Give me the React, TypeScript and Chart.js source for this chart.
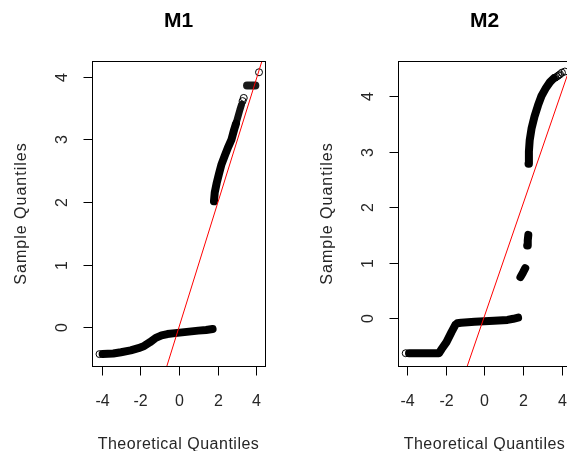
import React, { useEffect, useRef } from 'react';
import { Chart, registerables } from 'chart.js';

Chart.register(...registerables);

// ---- axis ticks ----
const xTickValues = [-4, -2, 0, 2, 4];
const yTickValues = [0, 1, 2, 3, 4];
const xAxisTitle = 'Theoretical Quantiles';
const yAxisTitle = 'Sample Quantiles';

// ---- M1 ----
const m1Title = 'M1';
const m1LowX = [-3.95, -3.4, -3.0, -2.5, -2.1, -1.8, -1.5, -1.2, -0.9, -0.6, -0.2, 0.4, 1.0, 1.4, 1.74];
const m1LowY = [-0.43, -0.42, -0.40, -0.37, -0.335, -0.3, -0.24, -0.17, -0.13, -0.11, -0.095, -0.075, -0.055, -0.045, -0.03];
const m1HighX = [1.81, 1.85, 1.95, 2.07, 2.2, 2.37, 2.55, 2.72, 2.85, 2.95];
const m1HighY = [2.01, 2.15, 2.3, 2.45, 2.6, 2.74, 2.88, 3.0, 3.15, 3.25];
const m1SparseX = [2.95, 3.05, 3.15, 3.24];
const m1SparseY = [3.25, 3.36, 3.47, 3.56];
const m1TieX = [3.52, 3.95];
const m1TieY = [3.86, 3.86];
const m1PointX = [-4.11, 3.29, 3.35, 4.14];
const m1PointY = [-0.43, 3.61, 3.66, 4.07];
const m1LineX = [-6, 6];
const m1LineY = [-5.94, 5.94];

// ---- M2 ----
const m2Title = 'M2';
const m2LowX = [-3.9, -3.0, -2.35, -2.2, -1.96, -1.7, -1.5, -1.4, -1.2, -0.5, 0.5, 1.2, 1.5, 1.75];
const m2LowY = [-0.63, -0.63, -0.63, -0.55, -0.43, -0.25, -0.12, -0.09, -0.08, -0.065, -0.045, -0.03, -0.01, 0.01];
const m2MidAX = [1.87, 2.0, 2.12];
const m2MidAY = [0.74, 0.82, 0.9];
const m2MidBX = [2.22, 2.25, 2.28];
const m2MidBY = [1.31, 1.4, 1.5];
const m2HighX = [2.29, 2.31, 2.35, 2.45, 2.6, 2.78, 2.96, 3.2, 3.4, 3.6];
const m2HighY = [2.78, 3.0, 3.2, 3.42, 3.63, 3.83, 4.0, 4.15, 4.25, 4.32];
const m2PointX = [-4.07, 3.68, 3.76, 3.84, 3.92, 4.02, 4.17];
const m2PointY = [-0.63, 4.33, 4.35, 4.37, 4.39, 4.42, 4.44];
const m2LineX = [-6, 6];
const m2LineY = [-6.03, 6.09];

const FONT = '"Liberation Sans", Arial, Helvetica, sans-serif';

const zip = (xs: number[], ys: number[]) => xs.map((x, i) => ({ x, y: ys[i] }));

const bandDataset = (xs: number[], ys: number[], width = 8, color = '#000000') => ({
  data: zip(xs, ys),
  showLine: true,
  borderColor: color,
  borderWidth: width,
  borderCapStyle: 'round',
  borderJoinStyle: 'round',
  pointRadius: 0,
  tension: 0,
});

const pointDataset = (xs: number[], ys: number[]) => ({
  data: zip(xs, ys),
  showLine: false,
  pointStyle: 'circle',
  pointRadius: 3.5,
  pointBorderWidth: 1,
  pointBorderColor: '#000000',
  pointBackgroundColor: 'rgba(0,0,0,0)',
});

const lineDataset = (xs: number[], ys: number[]) => ({
  data: zip(xs, ys),
  showLine: true,
  borderColor: '#ff0000',
  borderWidth: 1,
  pointRadius: 0,
  tension: 0,
});

const rPlotPlugin = {
  id: 'rPlot',
  afterDraw(chart: any, _args: any, opts: any) {
    const { ctx, chartArea: a } = chart;
    const xs = chart.scales.x;
    const ys = chart.scales.y;
    ctx.save();
    ctx.strokeStyle = '#000000';
    ctx.lineWidth = 1;
    const L = Math.round(a.left) + 0.5;
    const T = Math.round(a.top) + 0.5;
    const R = Math.round(a.right) + 0.5;
    const B = Math.round(a.bottom) + 0.5;
    ctx.strokeRect(L, T, R - L, B - T);

    ctx.fillStyle = '#262626';
    ctx.font = `16px ${FONT}`;
    ctx.textAlign = 'center';
    ctx.textBaseline = 'alphabetic';
    // x ticks
    xTickValues.forEach((v) => {
      const px = Math.round(xs.getPixelForValue(v)) + 0.5;
      ctx.beginPath();
      ctx.moveTo(px, B);
      ctx.lineTo(px, B + 9);
      ctx.stroke();
      ctx.fillText(String(v), px, B + 39);
    });
    // y ticks
    yTickValues.forEach((v) => {
      const py = Math.round(ys.getPixelForValue(v)) + 0.5;
      ctx.beginPath();
      ctx.moveTo(L, py);
      ctx.lineTo(L - 9, py);
      ctx.stroke();
      ctx.save();
      ctx.translate(L - 26, py);
      ctx.rotate(-Math.PI / 2);
      ctx.fillText(String(v), 0, 0);
      ctx.restore();
    });
    // axis titles
    const cx = (a.left + a.right) / 2;
    const cy = (a.top + a.bottom) / 2;
    (ctx as any).letterSpacing = '0.5px';
    ctx.fillText(xAxisTitle, cx, B + 82);
    ctx.save();
    (ctx as any).letterSpacing = '1px';
    ctx.translate(L - 67, cy);
    ctx.rotate(-Math.PI / 2);
    ctx.fillText(yAxisTitle, 0, 0);
    ctx.restore();
    (ctx as any).letterSpacing = '0px';
    // main title
    ctx.fillStyle = '#000000';
    ctx.font = `bold 21px ${FONT}`;
    ctx.fillText(opts.title, cx, 27);
    ctx.restore();
  },
};

type PanelProps = {
  title: string;
  datasets: any[];
  xMin: number;
  xMax: number;
  yMin: number;
  yMax: number;
};

function Panel({ title, datasets, xMin, xMax, yMin, yMax }: PanelProps) {
  const ref = useRef<HTMLCanvasElement | null>(null);
  useEffect(() => {
    if (!ref.current) return;
    const chart = new Chart(ref.current, {
      type: 'scatter',
      data: { datasets },
      options: {
        animation: false,
        responsive: false,
        events: [],
        layout: { padding: { left: 92, right: 41, top: 61, bottom: 85 } },
        plugins: {
          legend: { display: false },
          tooltip: { enabled: false },
          title: { display: false },
          rPlot: { title },
        } as any,
        scales: {
          x: { type: 'linear', min: xMin, max: xMax, display: false },
          y: { type: 'linear', min: yMin, max: yMax, display: false },
        },
      },
      plugins: [rPlotPlugin as any],
    } as any);
    return () => chart.destroy();
  }, []);
  return <canvas ref={ref} width={306} height={451} style={{ display: 'block', width: 306, height: 451 }} />;
}

export default function App() {
  const m1Datasets = [
    lineDataset(m1LineX, m1LineY),
    bandDataset(m1LowX, m1LowY),
    bandDataset(m1HighX, m1HighY),
    bandDataset(m1SparseX, m1SparseY, 7, '#111111'),
    bandDataset(m1TieX, m1TieY, 8, '#1a1a1a'),
    pointDataset(m1PointX, m1PointY),
  ];
  const m2Datasets = [
    lineDataset(m2LineX, m2LineY),
    bandDataset(m2LowX, m2LowY),
    bandDataset(m2MidAX, m2MidAY),
    bandDataset(m2MidBX, m2MidBY),
    bandDataset(m2HighX, m2HighY),
    pointDataset(m2PointX, m2PointY),
  ];
  return (
    <div
      style={{
        position: 'fixed',
        left: 0,
        top: 0,
        width: 567,
        height: 451,
        overflow: 'hidden',
        background: '#ffffff',
        display: 'flex',
      }}
    >
      <div style={{ flex: '0 0 306px' }}>
        <Panel title={m1Title} datasets={m1Datasets} xMin={-4.5} xMax={4.45} yMin={-0.62} yMax={4.25} />
      </div>
      <div style={{ flex: '0 0 306px' }}>
        <Panel title={m2Title} datasets={m2Datasets} xMin={-4.47} xMax={4.49} yMin={-0.86} yMax={4.63} />
      </div>
    </div>
  );
}
